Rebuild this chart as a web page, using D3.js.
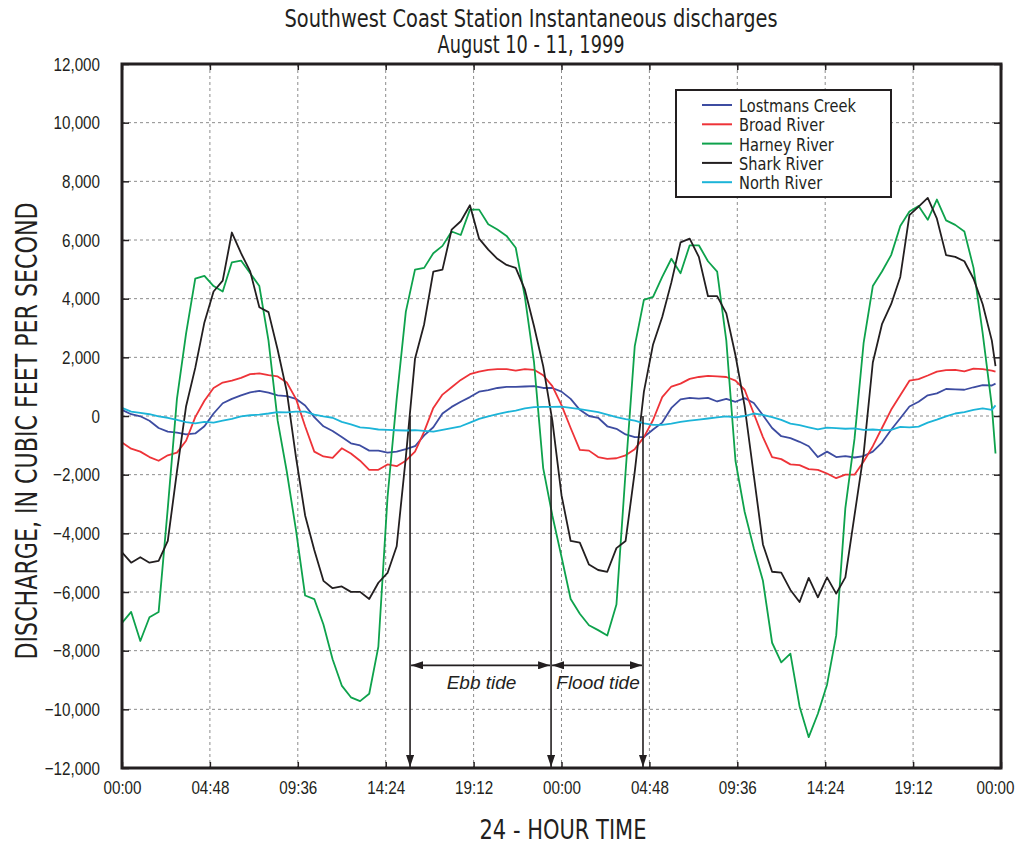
<!DOCTYPE html>
<html>
<head>
<meta charset="UTF-8">
<style>
  body { margin: 0; background: #fff; }
  svg { font-family: "Liberation Sans Narrow", "DejaVu Sans Condensed", "Arial Narrow", sans-serif; }
</style>
</head>
<body>
<svg></svg>
<script src="https://d3js.org/d3.v7.min.js"></script>
<script>

let width = 1021, height = 844;
let plot = { left: 122, top: 64, right: 1001, bottom: 768 };

// half-hour readings, hours since 00:00 Aug 10 (last reading just before 00:00 Aug 12)
const hours = d3.range(0, 48, 0.5).concat([47.7]);

const lostmans = [210, 60, -10, -160, -410, -535, -570, -630, -595, -350, 85, 435, 585, 705, 805, 855, 795, 705, 680, 585, 360, -40, -350, -510, -720,
  -930, -1005, -1180, -1180, -1250, -1215, -1130, -1030, -660, -385, 85, 310, 485, 645, 830, 880, 955, 995, 995, 1005, 1020, 955, 955, 830,
  585, 210, 0, -60, -350, -435, -630, -720, -720, -460, -225, 275, 570, 620, 595, 620, 495, 585, 485, 610, 445, 25, -410, -690,
  -755, -880, -1030, -1400, -1215, -1400, -1365, -1415, -1365, -1215, -905, -470, -75, 325, 485, 705, 770, 920, 905, 895, 980, 1055, 1040,
  1105];
const broad = [-905, -1115, -1215, -1400, -1525, -1340, -1250, -845, -40, 520, 955, 1140, 1205, 1300, 1425, 1450, 1390, 1350, 1140, 585, -350, -1215, -1380, -1430, -1100,
  -1280, -1525, -1835, -1835, -1650, -1710, -1525, -1215, -535, 275, 730, 980, 1230, 1425, 1515, 1575, 1600, 1600, 1550, 1600, 1575, 1390, 1020, 370,
  -410, -1155, -1180, -1400, -1465, -1440, -1340, -1130, -720, -135, 645, 1005, 1105, 1265, 1330, 1365, 1350, 1330, 1205, 895, 85, -720, -1400, -1470,
  -1650, -1675, -1810, -1835, -1960, -2120, -2000, -2000, -1550, -1030, -410, 210, 705, 1205, 1255, 1380, 1515, 1565, 1575, 1525, 1615, 1600, 1550,
  1515];
const harney = [-7050, -6680, -7670, -6860, -6680, -3140, 585, 2820, 4680, 4780, 4430, 4245, 5240, 5300, 4865, 4430, 2570, -160, -1900, -3885, -6120, -6240, -7110, -8290, -9190,
  -9590, -9720, -9470, -7860, -2770, 585, 3560, 4990, 5050, 5550, 5800, 6290, 6170, 7035, 7035, 6540, 6355, 6140, 5735, 4060, 1825, -1775, -3390, -4800,
  -6240, -6740, -7135, -7300, -7485, -6430, -1900, 2380, 3960, 4060, 4740, 5360, 4865, 5820, 5820, 5275, 4925, 2570, -1525, -3265, -4505, -5620, -7730, -8400,
  -8100, -9900, -10950, -10150, -9160, -7480, -3140, -780, 2505, 4430, 4925, 5485, 6480, 6975, 7160, 6690, 7380, 6670, 6515, 6290, 5050, 2820, 335,
  -1280];
const shark = [-4650, -5000, -4815, -5000, -4940, -4260, -1900, 335, 1640, 3190, 4245, 4615, 6255, 5550, 4930, 3710, 3540, 2260, 830, -1400, -3390, -4570, -5620, -5870, -5810,
  -5995, -5995, -6240, -5685, -5350, -4440, -1400, 1950, 3130, 4925, 4990, 6355, 6640, 7185, 6045, 5670, 5360, 5150, 5050, 4305, 3060, 1700, -160, -2700,
  -4260, -4320, -5065, -5250, -5310, -4505, -4260, -1900, 830, 2440, 3375, 4555, 5920, 6045, 5425, 4085, 4085, 3500, 2070, 335, -2020, -4380, -5310, -5340,
  -5930, -6340, -5520, -6180, -5500, -6055, -5500, -3390, -1280, 1825, 3130, 3810, 4740, 6850, 7135, 7435, 6725, 5485, 5425, 5275, 4680, 3810, 2570,
  1700];
const north = [275, 150, 110, 60, -10, -60, -135, -210, -250, -200, -225, -160, -100, -10, 25, 50, 85, 135, 125, 150, 150, 50, -10, -60, -200,
  -285, -385, -410, -460, -470, -485, -495, -485, -510, -535, -470, -410, -350, -225, -100, -10, 60, 135, 185, 260, 300, 310, 310, 320,
  275, 235, 185, 135, 50, -35, -110, -160, -250, -300, -300, -260, -200, -160, -125, -85, -50, -10, -50, 0, 85, 35, -35, -135,
  -260, -310, -385, -460, -395, -410, -435, -420, -470, -460, -485, -470, -370, -385, -360, -225, -125, -10, 85, 135, 210, 260, 210,
  360];

const seriesNames = ["Lostmans Creek", "Broad River", "Harney River", "Shark River", "North River"];
const seriesValues = [lostmans, broad, harney, shark, north];
const seriesColors = ["#3d4ca1", "#ee3338", "#0ea24c", "#231f20", "#1cb4d8"];

const xTicks = d3.range(0, 48.01, 4.8);           // every 4 h 48 min
const yTicks = d3.range(-12000, 12001, 2000);

// tide annotation: turning points (hours) and arrow level (cfs)
const tideTurns = [15.73, 23.43, 28.45];
const tideLabels = ["Ebb tide", "Flood tide"];
const tideArrowLevel = -8500;

let svg = d3.select("svg")
  .attr("width", width)
  .attr("height", height);

let x = d3.scaleLinear().domain([0, 48]).range([plot.left, plot.right]);
let y = d3.scaleLinear().domain([-12000, 12000]).range([plot.bottom, plot.top]);

let ink = "#231f20";

let fmtTime = function(h) {
  let mins = Math.round(h * 60) % (24 * 60);
  return d3.format("02")(Math.floor(mins / 60)) + ":" + d3.format("02")(mins % 60);
};

// the reference uses a condensed face; squeeze the fallback font to match
let squeeze = function(sel, k) {
  sel.each(function() {
    let w = this.getComputedTextLength();
    d3.select(this).attr("textLength", w * k).attr("lengthAdjust", "spacingAndGlyphs");
  });
};

// grid
let grid = svg.append("g").attr("stroke", "#8c8c8c").attr("stroke-width", 1).attr("stroke-dasharray", "3,3");
grid.selectAll(".vg")
  .data(xTicks.slice(1, -1))
  .enter().append("line")
  .attr("x1", d => x(d)).attr("x2", d => x(d))
  .attr("y1", plot.top).attr("y2", plot.bottom);
grid.selectAll(".hg")
  .data(yTicks.slice(1, -1))
  .enter().append("line")
  .attr("y1", d => y(d)).attr("y2", d => y(d))
  .attr("x1", plot.left).attr("x2", plot.right);

// axes (ticks point inward)
let yAxis = svg.append("g")
  .attr("transform", `translate(${plot.left},0)`)
  .call(d3.axisLeft(y).tickValues(yTicks).tickFormat(d3.format(",")).tickSize(-7).tickPadding(22));
let xAxis = svg.append("g")
  .attr("transform", `translate(0,${plot.bottom})`)
  .call(d3.axisBottom(x).tickValues(xTicks).tickFormat(fmtTime).tickSize(-6).tickPadding(13));
svg.append("g")
  .attr("transform", `translate(0,${plot.top})`)
  .call(d3.axisTop(x).tickValues(xTicks).tickFormat("").tickSize(-6));
svg.append("g")
  .attr("transform", `translate(${plot.right},0)`)
  .call(d3.axisRight(y).tickValues(yTicks).tickFormat("").tickSize(-7));

svg.selectAll(".domain").remove();
svg.selectAll(".tick line").attr("stroke", ink).attr("stroke-width", 1.5);
svg.selectAll(".tick text")
  .attr("fill", ink)
  .style("font-size", "19px");
squeeze(svg.selectAll(".tick text"), 0.8);
xAxis.selectAll(".tick text").filter(d => d === 48).attr("dx", -6);

// series
let line = d3.line()
  .x((d, i) => x(hours[i]))
  .y(d => y(d));

svg.append("g")
  .selectAll("path")
  .data(seriesValues)
  .enter().append("path")
  .attr("d", d => line(d))
  .attr("fill", "none")
  .attr("stroke", (d, i) => seriesColors[i])
  .attr("stroke-width", 1.8)
  .attr("stroke-linejoin", "round");

// frame
svg.append("rect")
  .attr("x", plot.left).attr("y", plot.top)
  .attr("width", plot.right - plot.left)
  .attr("height", plot.bottom - plot.top)
  .attr("fill", "none")
  .attr("stroke", ink)
  .attr("stroke-width", 3);

// tide arrows
let defs = svg.append("defs");
defs.append("marker")
  .attr("id", "head")
  .attr("viewBox", "0 0 12 8")
  .attr("refX", 12).attr("refY", 4)
  .attr("markerWidth", 12).attr("markerHeight", 8)
  .attr("markerUnits", "userSpaceOnUse")
  .attr("orient", "auto-start-reverse")
  .append("path")
  .attr("d", "M0,0L12,4L0,8Z")
  .attr("fill", ink);

let tide = svg.append("g").attr("stroke", ink).attr("stroke-width", 1.6);
tide.selectAll(".drop")
  .data(tideTurns)
  .enter().append("line")
  .attr("x1", d => x(d)).attr("x2", d => x(d))
  .attr("y1", y(0)).attr("y2", plot.bottom - 1)
  .attr("marker-end", "url(#head)");
tide.selectAll(".span")
  .data(tideLabels)
  .enter().append("line")
  .attr("x1", (d, i) => x(tideTurns[i]) + 1)
  .attr("x2", (d, i) => x(tideTurns[i + 1]) - 1)
  .attr("y1", y(tideArrowLevel)).attr("y2", y(tideArrowLevel))
  .attr("marker-start", "url(#head)")
  .attr("marker-end", "url(#head)");
svg.selectAll(".tideLabel")
  .data(tideLabels)
  .enter().append("text")
  .attr("x", (d, i) => (x(tideTurns[i]) + x(tideTurns[i + 1])) / 2 + 1)
  .attr("y", y(tideArrowLevel) + 24)
  .attr("text-anchor", "middle")
  .style("font-family", "'Liberation Sans', Arial, sans-serif")
  .style("font-style", "italic")
  .style("font-size", "19px")
  .attr("fill", ink)
  .text(d => d);

// legend
let legend = svg.append("g").attr("transform", "translate(676,90)");
legend.append("rect")
  .attr("width", 215).attr("height", 107)
  .attr("fill", "#fff")
  .attr("stroke", ink)
  .attr("stroke-width", 2);
let rows = legend.selectAll(".row")
  .data(seriesNames)
  .enter().append("g")
  .attr("transform", (d, i) => `translate(0,${15 + i * 19.3})`);
rows.append("line")
  .attr("x1", 26).attr("x2", 56)
  .attr("stroke", (d, i) => seriesColors[i])
  .attr("stroke-width", 2);
let legendText = rows.append("text")
  .attr("x", 63).attr("y", 7)
  .style("font-size", "18px")
  .attr("fill", ink)
  .text(d => d);
squeeze(legendText, 0.9);

// titles
svg.append("text")
  .attr("x", 531).attr("y", 27)
  .attr("text-anchor", "middle")
  .attr("textLength", 493).attr("lengthAdjust", "spacingAndGlyphs")
  .style("font-size", "24px").attr("fill", ink)
  .text("Southwest Coast Station Instantaneous discharges");
svg.append("text")
  .attr("x", 531).attr("y", 53)
  .attr("text-anchor", "middle")
  .attr("textLength", 187).attr("lengthAdjust", "spacingAndGlyphs")
  .style("font-size", "24px").attr("fill", ink)
  .text("August 10 - 11, 1999");
svg.append("text")
  .attr("transform", "translate(37,431) rotate(-90)")
  .attr("text-anchor", "middle")
  .attr("textLength", 457).attr("lengthAdjust", "spacingAndGlyphs")
  .style("font-size", "31px").attr("fill", ink)
  .text("DISCHARGE, IN CUBIC FEET PER SECOND");
svg.append("text")
  .attr("x", 563).attr("y", 839)
  .attr("text-anchor", "middle")
  .attr("textLength", 167).attr("lengthAdjust", "spacingAndGlyphs")
  .style("font-size", "27px").attr("fill", ink)
  .text("24 - HOUR TIME");

</script>
</body>
</html>
